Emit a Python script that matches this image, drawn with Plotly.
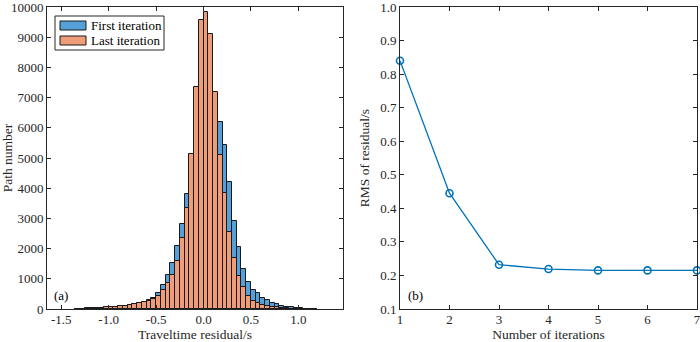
import plotly.graph_objects as go

# ---------------- data ----------------
bin_centers = [-1.325, -1.275, -1.225, -1.175, -1.125, -1.075, -1.025, -0.975, -0.925, -0.875,
               -0.825, -0.775, -0.725, -0.675, -0.625, -0.575, -0.525, -0.475, -0.425, -0.375,
               -0.325, -0.275, -0.225, -0.175, -0.125, -0.075, -0.025, 0.025, 0.075, 0.125,
               0.175, 0.225, 0.275, 0.325, 0.375, 0.425, 0.475, 0.525, 0.575, 0.625,
               0.675, 0.725, 0.775, 0.825, 0.875, 0.925, 0.975, 1.025, 1.075, 1.125, 1.175]
bin_width = 0.05

first_counts = [10, 15, 22, 28, 35, 45, 55, 65, 78, 95,
                115, 135, 170, 200, 240, 290, 380, 530, 795, 1137,
                1523, 2097, 2803, 3808, 5000, 6900, 8300, 8700, 8500, 7100,
                6181, 5441, 4194, 2903, 2053, 1325, 880, 618, 520, 364,
                300, 215, 160, 110, 77, 55, 33, 22, 15, 10, 6]

last_counts = [8, 12, 20, 25, 30, 40, 50, 60, 70, 85,
               105, 130, 160, 190, 220, 260, 330, 441, 618, 861,
               1126, 1578, 2351, 3344, 5132, 7351, 9558, 9834, 9106, 7196,
               5110, 3841, 2539, 1689, 1104, 728, 441, 254, 200, 143,
               110, 77, 50, 33, 22, 12, 8, 5, 3, 2, 1]

iterations = [1, 2, 3, 4, 5, 6, 7]
rms = [0.840, 0.445, 0.232, 0.219, 0.215, 0.215, 0.215]

hist_xticks = [-1.5, -1.0, -0.5, 0.0, 0.5, 1.0]
hist_xticktext = ["-1.5", "-1.0", "-0.5", "0.0", "0.5", "1.0"]
hist_yticks = [0, 1000, 2000, 3000, 4000, 5000, 6000, 7000, 8000, 9000, 10000]
rms_yticks = [0.1, 0.2, 0.3, 0.4, 0.5, 0.6, 0.7, 0.8, 0.9, 1.0]
legend_names = ["First iteration", "Last iteration"]

# ---------------- style ----------------
W, H = 700, 342
FONT = "Liberation Serif, Times New Roman, serif"
AX = "#262626"
BLUE = "#55A0D8"
ORANGE = "#EF9C78"
LINE = "#0072BD"

def px_x(p):
    return p / W

def px_y(p):
    return 1 - p / H

fig = go.Figure()

fig.add_trace(go.Bar(x=bin_centers, y=first_counts, width=bin_width,
                     marker=dict(color=BLUE, line=dict(color="#1a1a1a", width=1)),
                     name=legend_names[0], xaxis="x", yaxis="y", showlegend=False))
fig.add_trace(go.Bar(x=bin_centers, y=last_counts, width=bin_width,
                     marker=dict(color=ORANGE, line=dict(color="#1a1a1a", width=1)),
                     name=legend_names[1], xaxis="x", yaxis="y", showlegend=False))

fig.add_trace(go.Scatter(x=iterations, y=rms, mode="lines+markers",
                         line=dict(color=LINE, width=1.3),
                         marker=dict(symbol="circle-open", size=7, color=LINE, line=dict(width=1.6)),
                         cliponaxis=False, xaxis="x2", yaxis="y2", showlegend=False))

axis_common = dict(showline=True, linecolor=AX, linewidth=1, mirror="ticks",
                   ticks="inside", ticklen=4, tickcolor=AX, tickwidth=1,
                   showgrid=False, zeroline=False, automargin=False,
                   ticklabeloverflow="allow",
                   tickfont=dict(family=FONT, size=13, color=AX))
title_font = dict(family=FONT, size=13.5, color=AX)

fig.update_layout(
    width=W, height=H,
    margin=dict(l=0, r=0, t=0, b=0),
    paper_bgcolor="white", plot_bgcolor="white",
    barmode="overlay", bargap=0,
    showlegend=False,
    xaxis=dict(domain=[px_x(47), px_x(343)], range=[-1.65, 1.47],
               tickvals=hist_xticks, ticktext=hist_xticktext, ticklabelstandoff=-2,
               title=dict(text="Traveltime residual/s", font=title_font, standoff=2),
               anchor="y", **axis_common),
    yaxis=dict(domain=[1 - 309 / H, 1 - 7 / H], range=[0, 10000],
               tickvals=hist_yticks, tickformat="d",
               title=dict(text="Path number", font=title_font, standoff=6),
               anchor="x", **axis_common),
    xaxis2=dict(domain=[px_x(400), px_x(697)], range=[1, 7], tickvals=iterations,
                ticklabelstandoff=-2,
                title=dict(text="Number of iterations", font=title_font, standoff=2),
                anchor="y2", **axis_common),
    yaxis2=dict(domain=[1 - 309 / H, 1 - 7 / H], range=[0.1, 1.0],
                tickvals=rms_yticks, tickformat=".1f",
                title=dict(text="RMS of residual/s", font=title_font, standoff=7),
                anchor="x2", **axis_common),
)

# legend box (drawn as shapes + text)
shapes = [
    dict(type="rect", xref="paper", yref="paper", x0=px_x(55), x1=px_x(164), y0=px_y(50), y1=px_y(16),
         line=dict(color=AX, width=1), fillcolor="white", layer="above"),
    dict(type="rect", xref="paper", yref="paper", x0=px_x(60), x1=px_x(86), y0=px_y(30), y1=px_y(21),
         line=dict(color="#1a1a1a", width=1), fillcolor=BLUE, layer="above"),
    dict(type="rect", xref="paper", yref="paper", x0=px_x(60), x1=px_x(86), y0=px_y(45), y1=px_y(36),
         line=dict(color="#1a1a1a", width=1), fillcolor=ORANGE, layer="above"),
]
fig.update_layout(shapes=shapes)

annotations = [
    dict(text=legend_names[0], xref="paper", yref="paper", x=px_x(89), y=px_y(25.5),
         xanchor="left", yanchor="middle", showarrow=False, font=dict(family=FONT, size=13, color="black")),
    dict(text=legend_names[1], xref="paper", yref="paper", x=px_x(89), y=px_y(40.5),
         xanchor="left", yanchor="middle", showarrow=False, font=dict(family=FONT, size=13, color="black")),
    dict(text="(a)", xref="paper", yref="paper", x=px_x(52), y=px_y(295),
         xanchor="left", yanchor="middle", showarrow=False, font=dict(family=FONT, size=13, color="black")),
    dict(text="(b)", xref="paper", yref="paper", x=px_x(406), y=px_y(295),
         xanchor="left", yanchor="middle", showarrow=False, font=dict(family=FONT, size=13, color="black")),
]
fig.update_layout(annotations=annotations)

# remove the browser's default 8px body margin so the figure fills the 700x342 window exactly
fig.write_html("out.html", config={"displayModeBar": False},
               post_script="document.body.style.margin='0';document.body.style.overflow='hidden';")
